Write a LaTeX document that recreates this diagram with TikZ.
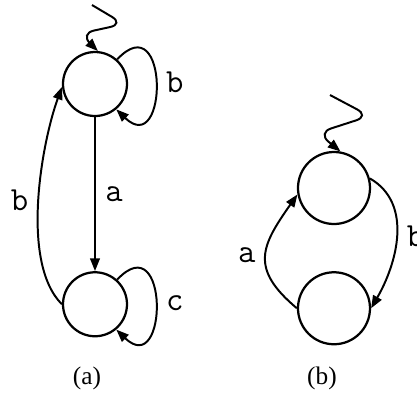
\documentclass[tikz,border=0pt]{standalone}
\usepackage{fontspec}
\setmainfont{Liberation Serif}
\setmonofont{Latin Modern Mono}
\usetikzlibrary{arrows.meta,positioning}

\begin{document}
\begin{tikzpicture}[
  node distance=5mm,
  state/.style={circle,draw,line width=0.8pt,minimum size=0.8cm,inner sep=0pt},
  bigstate/.style={state,minimum size=0.9cm},
  edge/.style={-{Triangle[length=4.5pt,width=3.4pt]},line width=0.7pt},
  wiggle/.style={edge,rounded corners=5pt},
  lbl/.style={font=\large\ttfamily},
  caption/.style={font=\small}
]
  \useasboundingbox (0,0) rectangle (5.2125,-4.925);
  % (a)
  \node[state] (qa1) at (1.1875,-1.05) {};
  \node[state,below=1.925cm of qa1] (qa2) {};
  \coordinate (za) at (1.15,-0.0625);
  \draw[wiggle] (za) -- (1.55,-0.3) -- (1.0,-0.42) -- (qa1.85);
  \draw[edge] (qa1.48) .. controls +(0.65,0.69) and +(0.65,-0.625) .. node[lbl,right]{b} (qa1.-50);
  \draw[edge] (qa2.48) .. controls +(0.65,0.69) and +(0.65,-0.625) .. node[lbl,right]{c} (qa2.-50);
  \draw[edge] (qa1) -- node[lbl,right]{a} (qa2);
  \draw[edge] (qa2.180) to[out=135,in=-110,looseness=0.7] node[lbl,left]{b} (qa1.185);
  \node[caption] (capa) at (1.0875,-4.725) {(a)};
  % (b)
  \node[bigstate] (qb1) at (4.175,-2.35) {};
  \node[bigstate,below=0.575cm of qb1] (qb2) {};
  \coordinate (zb) at (4.125,-1.1875);
  \draw[wiggle] (zb) -- (4.62,-1.45) -- (3.97,-1.66) -- (qb1.80);
  \draw[edge] (qb2.180) to[out=140,in=-125,looseness=1.4] node[lbl,left]{a} (qb1.190);
  \draw[edge] (qb1.15) to[out=-30,in=60] node[lbl,right]{b} (qb2.0);
  \node[caption] (capb) at (4.025,-4.725) {(b)};
\end{tikzpicture}
\end{document}
